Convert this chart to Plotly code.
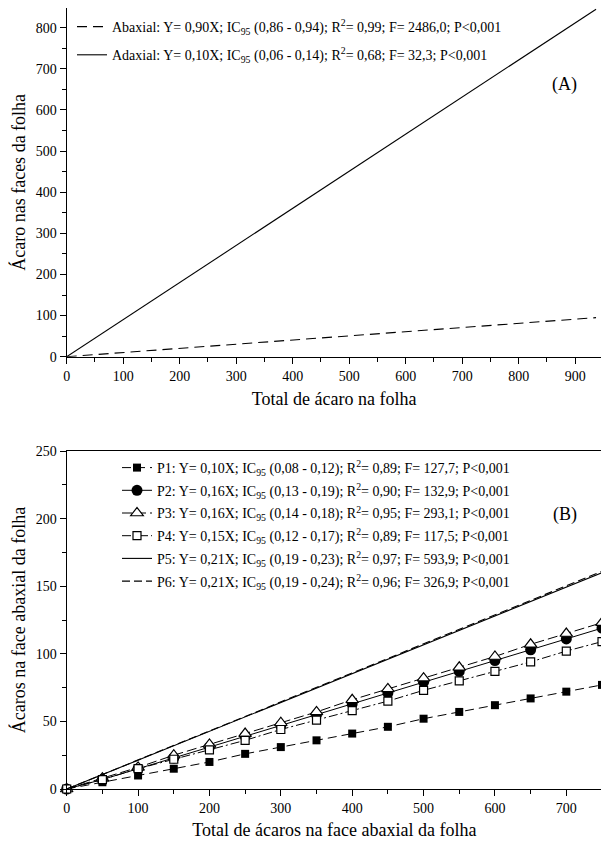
import plotly.graph_objects as go

# ---------------- Panel A data ----------------
a_x = [0, 937]
a_abaxial_y = [0, 95]     # drawn dashed in the reference
a_adaxial_y = [0, 845]    # drawn solid in the reference
a_names = [
    "Abaxial: Y= 0,90X; IC<sub>95</sub> (0,86 - 0,94); R<sup>2</sup>= 0,99; F= 2486,0; P&lt;0,001",
    "Adaxial: Y= 0,10X; IC<sub>95</sub> (0,06 - 0,14); R<sup>2</sup>= 0,68; F= 32,3; P&lt;0,001",
]

# ---------------- Panel B data ----------------
b_x = [0, 50, 100, 150, 200, 250, 300, 350, 400, 450, 500, 550, 600, 650, 700, 750]
p1 = [0, 5, 10, 15, 20, 26, 31, 36, 41, 46, 52, 57, 62, 67, 72, 77]
p2 = [0, 7, 15, 23, 31, 39, 47, 55, 63, 71, 79, 87, 95, 103, 111, 119]
p3 = [0, 8, 16, 25, 33, 41, 49, 57, 66, 74, 82, 90, 98, 107, 115, 123]
p4 = [0, 7, 15, 22, 29, 36, 44, 51, 58, 65, 73, 80, 87, 94, 102, 109]
p5_x = [0, 750]
p5 = [0, 160]
p6_x = [0, 750]
p6 = [0, 161]
b_names = [
    "P1: Y= 0,10X; IC<sub>95</sub> (0,08 - 0,12); R<sup>2</sup>= 0,89; F= 127,7; P&lt;0,001",
    "P2: Y= 0,16X; IC<sub>95</sub> (0,13 - 0,19); R<sup>2</sup>= 0,90; F= 132,9; P&lt;0,001",
    "P3: Y= 0,16X; IC<sub>95</sub> (0,14 - 0,18); R<sup>2</sup>= 0,95; F= 293,1; P&lt;0,001",
    "P4: Y= 0,15X; IC<sub>95</sub> (0,12 - 0,17); R<sup>2</sup>= 0,89; F= 117,5; P&lt;0,001",
    "P5: Y= 0,21X; IC<sub>95</sub> (0,19 - 0,23); R<sup>2</sup>= 0,97; F= 593,9; P&lt;0,001",
    "P6: Y= 0,21X; IC<sub>95</sub> (0,19 - 0,24); R<sup>2</sup>= 0,96; F= 326,9; P&lt;0,001",
]

W, H = 609, 844
OFF = 8  # page body margin offset
FONT = "Liberation Serif"
BLK = "black"

def px_x(v):
    return min(max((v - OFF) / W, 0), 1)

def px_y(v):
    return min(max(1 - (v - OFF) / H, 0), 1)

fig = go.Figure()

# Panel A traces
fig.add_trace(go.Scatter(x=a_x, y=a_abaxial_y, mode="lines", name=a_names[0],
                         line=dict(color=BLK, width=1.1, dash="10px,6px"),
                         legendgroup="a1", xaxis="x", yaxis="y", legend="legend"))
fig.add_trace(go.Scatter(x=a_x, y=a_adaxial_y, mode="lines", name=a_names[1],
                         line=dict(color=BLK, width=1.1),
                         legendgroup="a2", xaxis="x", yaxis="y", legend="legend"))

# Panel B traces
fig.add_trace(go.Scatter(x=b_x, y=p1, mode="lines+markers", name=b_names[0],
                         line=dict(color=BLK, width=1, dash="9px,5px"),
                         marker=dict(symbol="square", size=8, color=BLK),
                         legendgroup="b1",
                         cliponaxis=False, xaxis="x2", yaxis="y2", legend="legend2"))
fig.add_trace(go.Scatter(x=b_x, y=p2, mode="lines+markers", name=b_names[1],
                         line=dict(color=BLK, width=1),
                         marker=dict(symbol="circle", size=11, color=BLK),
                         legendgroup="b2",
                         cliponaxis=False, xaxis="x2", yaxis="y2", legend="legend2"))
fig.add_trace(go.Scatter(x=b_x, y=p3, mode="lines+markers", name=b_names[2],
                         line=dict(color=BLK, width=1, dash="10px,4px"),
                         marker=dict(symbol="triangle-up", size=11, color="white",
                                     line=dict(color=BLK, width=1.2)),
                         legendgroup="b3",
                         cliponaxis=False, xaxis="x2", yaxis="y2", legend="legend2"))
fig.add_trace(go.Scatter(x=b_x, y=p4, mode="lines+markers", name=b_names[3],
                         line=dict(color=BLK, width=1, dash="9px,3px,2px,3px"),
                         marker=dict(symbol="square", size=8, color="white",
                                     line=dict(color=BLK, width=1.2)),
                         legendgroup="b4",
                         cliponaxis=False, xaxis="x2", yaxis="y2", legend="legend2"))
fig.add_trace(go.Scatter(x=p5_x, y=p5, mode="lines", name=b_names[4],
                         line=dict(color=BLK, width=1.1),
                         legendgroup="b5",
                         xaxis="x2", yaxis="y2", legend="legend2"))
fig.add_trace(go.Scatter(x=p6_x, y=p6, mode="lines", name=b_names[5],
                         line=dict(color=BLK, width=1.1, dash="8px,4px"),
                         legendgroup="b6",
                         xaxis="x2", yaxis="y2", legend="legend2"))

tickfont = dict(family=FONT, size=14, color=BLK)
titlefont = dict(family=FONT, size=18, color=BLK)

def axis(rng, dtick, minor_dtick, domain, anchor, title, standoff):
    return dict(range=rng, dtick=dtick, tick0=0, domain=domain, anchor=anchor,
                automargin=False,
                showline=True, linecolor=BLK, linewidth=1.2, mirror=True,
                showgrid=False, zeroline=False,
                ticks="outside", ticklen=6, tickwidth=1, tickcolor=BLK,
                minor=dict(ticks="outside", ticklen=4, dtick=minor_dtick, tick0=0,
                           tickcolor=BLK, tickwidth=1, showgrid=False),
                tickfont=tickfont,
                title=dict(text=title, font=titlefont, standoff=standoff))

fig.update_layout(
    template="none",
    width=W, height=H,
    margin=dict(l=0, r=0, t=0, b=0),
    paper_bgcolor="white", plot_bgcolor="white",
    font=dict(family=FONT, color=BLK),
    showlegend=True,
    xaxis=axis([0, 947], 100, 50, [px_x(66.7), px_x(601.7)], "y",
               "Total de ácaro na folha", 9),
    yaxis=axis([0, 848], 100, 50, [px_y(356.7), px_y(8)], "x",
               "Ácaro nas faces da folha", 10),
    xaxis2=axis([0, 750], 100, 50, [px_x(66.7), px_x(602)], "y2",
                "Total de ácaros na face abaxial da folha", 8),
    yaxis2=axis([0, 250], 50, 25, [px_y(789), px_y(451)], "x2",
                "Ácaros na face abaxial da folha", 10),
    legend=dict(x=px_x(72), y=px_y(11), xanchor="left", yanchor="top",
                bgcolor="rgba(0,0,0,0)", font=dict(family=FONT, size=14, color=BLK),
                tracegroupgap=7, itemwidth=30),
    legend2=dict(x=px_x(117), y=px_y(452), xanchor="left", yanchor="top",
                 bgcolor="rgba(0,0,0,0)", font=dict(family=FONT, size=14, color=BLK),
                 tracegroupgap=1.5, itemwidth=30),
    annotations=[
        dict(text="(A)", x=px_x(579), y=px_y(72), xref="paper", yref="paper",
             showarrow=False, font=dict(family=FONT, size=18, color=BLK)),
        dict(text="(B)", x=px_x(579), y=px_y(514), xref="paper", yref="paper",
             showarrow=False, font=dict(family=FONT, size=18, color=BLK)),
    ],
)

fig.write_html("out.html")
